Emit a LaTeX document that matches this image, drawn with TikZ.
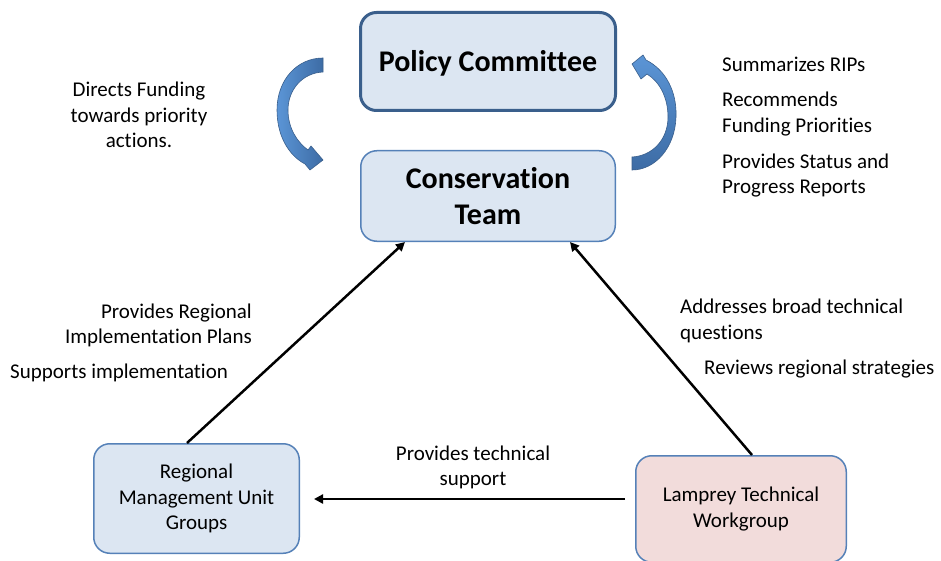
\documentclass[tikz,border=0pt]{standalone}
\usepackage{fontspec}
\setmainfont{Carlito}[Ligatures=NoCommon]
\usetikzlibrary{arrows.meta,calc}
\definecolor{boxfill}{HTML}{DCE6F2}
\definecolor{pinkfill}{HTML}{F2DCDB}
\definecolor{boxline}{HTML}{5581B8}
\definecolor{darkline}{HTML}{3A5F8C}
\definecolor{arrlight}{HTML}{5B95D6}
\definecolor{arrdark}{HTML}{3D6CA5}
\begin{document}
\begin{tikzpicture}[x=1pt,y=-1pt,
  box/.style={draw=boxline, line width=1.5pt, fill=boxfill, rounded corners=16pt,
    inner sep=0pt, align=center, font=\fontsize{21}{25.6}\selectfont},
  bigbox/.style={box, font=\bfseries\fontsize{30}{36}\selectfont},
  lbl/.style={inner sep=0pt, font=\fontsize{21}{25.6}\selectfont},
  conn/.style={line width=2.5pt, -{Triangle[length=9pt,width=9pt]}},
  bendarrow/.style={draw=darkline, line width=0.6pt}]
\useasboundingbox[fill=white] (0,0) rectangle (941,561);

% boxes
\node[bigbox, draw=darkline, line width=3pt, minimum width=255pt, minimum height=98pt, text height=24pt] (pc) at (488,61.5) {Policy Committee};
\node[bigbox, minimum width=254.5pt, minimum height=90.5pt] (ct) at (488,196) {Conservation\\Team};
\node[box, minimum width=205.5pt, minimum height=109.5pt] (rm) at (196.5,498.5) {Regional\\Management Unit\\Groups};
\node[box, fill=pinkfill, minimum width=210.5pt, minimum height=106.5pt] (lt) at (741,509) {Lamprey Technical\\Workgroup};

% curved block arrows
\path[bendarrow, left color=arrlight, right color=arrdark]
  (323,58) -- (323,72)
  .. controls (302,73) and (288,90) .. (288,110)
  .. controls (288,128) and (297,142) .. (308,150)
  -- (311,146) -- (323,160) -- (310,170) -- (305,164)
  .. controls (288,155) and (277,135) .. (277,110)
  .. controls (277,80) and (297,58) .. (323,58) -- cycle;
\path[bendarrow, top color=arrlight, bottom color=arrdark]
  (632,64) -- (643,55) -- (646,60)
  .. controls (666,70) and (677,92) .. (676,117)
  .. controls (675,148) and (655,170) .. (632,170)
  -- (632,157)
  .. controls (652,156) and (668,140) .. (668,117)
  .. controls (668,98) and (660,82) .. (647,74)
  -- (641,79) -- cycle;

% connectors
\draw[conn] ($(rm.north)+(-9.5,0)$) -- ($(ct.south)+(-83,0)$);
\draw[conn] ($(lt.north)+(11,0)$) -- ($(ct.south)+(82,0)$);
\draw[conn] ($(lt.west)+(-10,-10)$) -- ($(rm.east)+(14,0.5)$);

% labels
\node[lbl, align=center] (dir) at (139,115) {Directs Funding\\towards priority\\actions.};
\node[lbl, align=left, anchor=west] (sum) at (722,127) {Summarizes RIPs\\[10pt]Recommends\\Funding Priorities\\[10pt]Provides Status and\\Progress Reports};
\node[lbl, align=right, anchor=east] (prov) at (252,325.5) {Provides Regional\\Implementation Plans};
\node[lbl, anchor=west] (sup) at (10,373) {Supports implementation};
\node[lbl, align=left, anchor=west] (addr) at (680,321) {Addresses broad technical\\questions};
\node[lbl, anchor=west] (rev) at (704,369) {Reviews regional strategies};
\node[lbl, align=center] (tech) at (473,467.5) {Provides technical\\support};
\end{tikzpicture}
\end{document}
